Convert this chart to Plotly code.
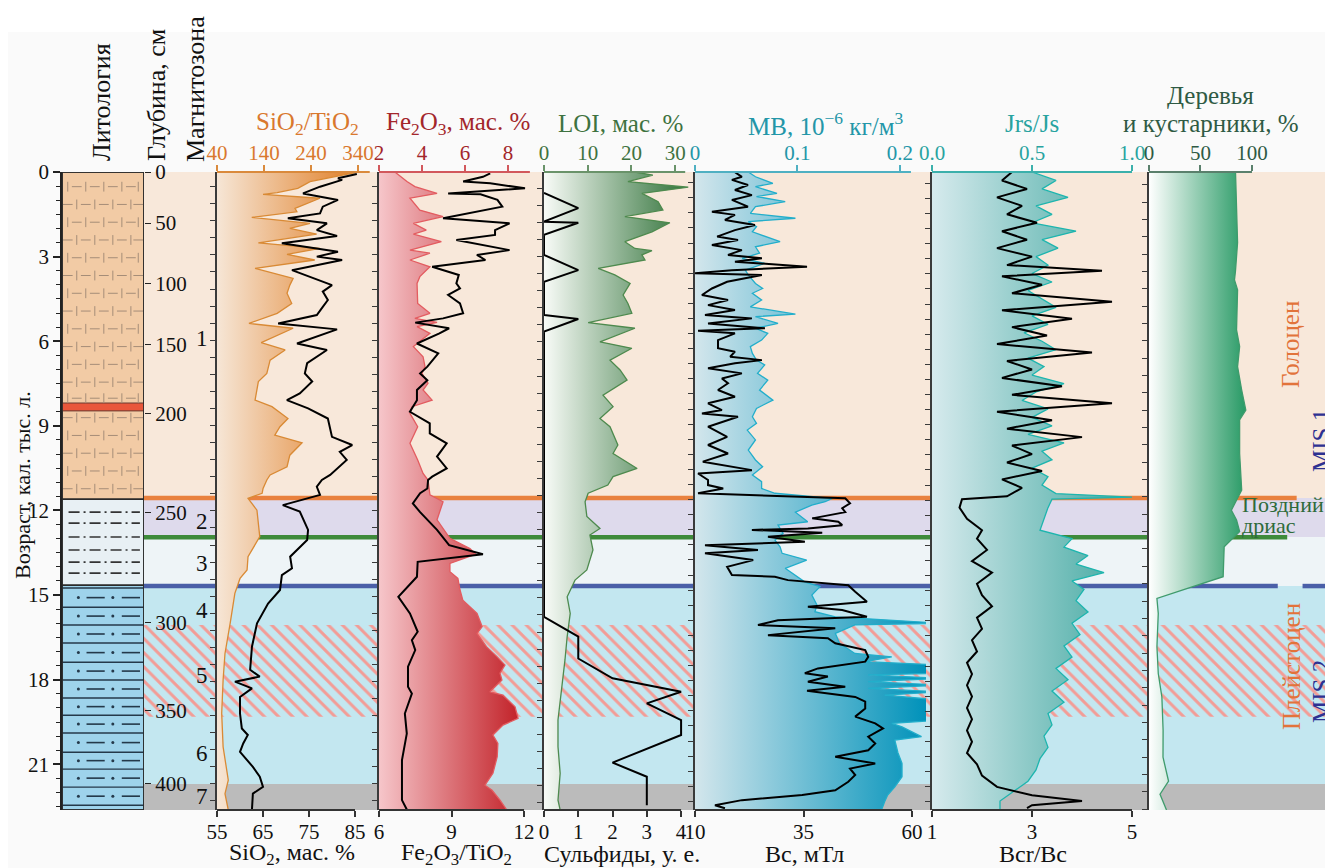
import plotly.graph_objects as go

W, H = 1325, 868
SERIF = "Liberation Serif"
AGE_MAX = 22.62


def fx(p):
    return p / W


def fy(p):
    return 1 - p / H


Y_DOM = [fy(810), fy(172)]

# ---------------- age / depth scales ----------------
DEPTH_CM = [0, 50, 100, 150, 200, 250, 300, 350, 400]
DEPTH_AGE = [0.0, 1.81, 3.97, 6.13, 8.55, 12.06, 15.96, 19.08, 21.67]

MAGNETOZONES = ["1", "2", "3", "4", "5", "6", "7"]
MAGNETOZONE_AGE = [5.96, 12.45, 13.94, 15.60, 17.91, 20.67, 22.20]

# ---------------- climatic intervals ----------------
BAND_TOP = [0.0, 11.56, 12.95, 14.68, 21.70]
BAND_BOT = [11.56, 12.95, 14.68, 21.70, AGE_MAX]
BAND_COLOR = ["#F8E8DA", "#DEDAEC", "#EEF4F7", "#C3E7F0", "#BBBBBB"]
HATCH_TOP, HATCH_BOT = 16.06, 19.31
BOUNDARY_AGE = [11.56, 12.95, 14.68]
BOUNDARY_COLOR = ["#E9813E", "#3E8A3A", "#4A5FA8"]

# ---------------- lithology ----------------
LITH_TOP = [0.0, 11.6, 14.65]
LITH_BOT = [11.6, 14.65, AGE_MAX]
LITH_COLOR = ["#F2CBA5", "#E8F0F4", "#9ED3EB"]
RED_LAYER = (8.19, 8.47)
SILT_ROWS = [0.52, 1.15, 1.78, 2.41, 3.04, 3.67, 4.30, 4.93, 5.56, 6.19,
             6.82, 7.45, 8.02, 8.71, 9.34, 9.97, 10.60, 11.23]
DASHDOT_ROWS = [12.06, 12.45, 12.94, 13.40, 13.83, 14.22]
CLAY_LINES = [14.75, 15.43, 16.06, 16.70, 17.38, 18.01, 18.65, 19.26,
              19.89, 20.57, 21.17, 21.81, 22.45]

# ---------------- SiO2/TiO2 (top) and SiO2, % (bottom) ----------------
SITI_AGE = [0.0, 0.34, 0.58, 0.73, 0.79, 0.93, 1.29, 1.41, 1.61, 1.82, 2.00, 2.20,
            2.51, 2.71, 2.92, 3.12, 3.42, 3.77, 4.01, 4.30, 4.66, 5.01, 5.37, 5.54,
            6.05, 6.31, 6.67, 7.14, 7.43, 7.73, 8.09, 8.32, 8.74, 9.03, 9.33, 9.60,
            10.04, 10.45, 10.74, 10.92, 11.22, 11.39, 11.57, 11.99, 12.93, 13.64,
            14.11, 14.41, 14.94, 16.00, 17.07, 18.01, 19.20, 20.38, 21.56, 22.04, 22.62]
SITI_VAL = [340, 238, 212, 168, 138, 259, 206, 210, 114, 238, 195, 252,
            128, 259, 189, 248, 121, 202, 195, 189, 199, 168, 108, 202,
            134, 185, 153, 146, 128, 125, 121, 157, 191, 174, 163, 221,
            195, 189, 153, 146, 138, 136, 106, 125, 131, 106,
            104, 89, 78, 68, 57, 53, 50, 53, 64, 57, 64]

SIO2_AGE = [0.07, 0.22, 0.28, 0.52, 0.76, 0.99, 1.23, 1.47, 1.64, 1.82, 2.06, 2.27,
            2.53, 2.83, 3.00, 3.12, 3.48, 4.01, 4.24, 4.54, 4.78, 5.07, 5.37, 5.58,
            6.08, 6.31, 6.78, 7.14, 7.43, 7.85, 8.09, 8.38, 8.74, 9.39, 9.68, 9.92,
            10.21, 10.74, 10.92, 11.16, 11.45, 11.81, 12.04, 12.69, 13.05, 13.64,
            14.05, 14.29, 14.82, 15.30, 16.00, 16.83, 17.65, 17.89, 18.07, 18.31,
            18.61, 19.20, 19.73, 19.96, 20.26, 20.56, 21.09, 21.44, 21.80, 22.04, 22.60]
SIO2_VAL = [85.4, 81.3, 82.2, 77.4, 73.7, 81.3, 78.0, 77.4, 70.4, 78.9, 76.7, 81.1,
            69.1, 81.3, 76.7, 82.2, 71.3, 80.0, 78.0, 79.1, 78.0, 76.7, 68.3, 81.1,
            72.4, 78.9, 74.6, 74.1, 75.7, 73.0, 70.2, 74.8, 79.1, 80.0, 84.4, 81.7,
            83.2, 79.6, 77.8, 76.7, 77.4, 69.3, 73.0, 74.8, 74.6, 70.9,
            71.3, 69.1, 68.7, 66.1, 63.7, 62.6, 62.2, 64.3, 58.9, 62.6,
            60.0, 60.0, 60.4, 61.7, 60.7, 60.0, 62.8, 64.3, 65.0, 62.8, 62.6]

# ---------------- Fe2O3, % (top) and Fe2O3/TiO2 (bottom) ----------------
FE_AGE = [0.0, 0.34, 0.52, 0.76, 0.93, 1.35, 1.58, 1.82, 2.06, 2.20, 2.47, 2.77,
          2.88, 3.12, 3.36, 3.71, 3.95, 4.66, 5.01, 5.19, 5.33, 5.48, 5.72, 6.19,
          6.55, 6.90, 7.14, 7.49, 7.73, 8.09, 8.32, 8.56, 9.03, 9.62, 10.21, 10.69,
          10.92, 11.45, 11.69, 11.99, 12.33, 12.99, 13.35, 13.55, 13.88, 14.17,
          14.41, 14.82, 15.18, 15.65, 16.12, 16.36, 16.83, 17.19, 17.48, 17.77,
          18.01, 18.43, 18.55, 18.96, 19.37, 19.61, 19.96, 20.26, 20.73, 21.32,
          21.74, 21.92, 22.27, 22.62]
FE_VAL = [2.74, 3.30, 3.67, 4.70, 3.44, 3.90, 4.98, 3.60, 4.20, 3.60, 4.90, 3.44,
          4.37, 3.44, 4.37, 3.90, 3.77, 3.80, 4.37, 3.67, 4.70, 3.77, 4.37, 3.60,
          4.05, 4.14, 4.00, 4.28, 4.05, 4.47, 3.53, 3.44, 3.80, 3.44, 3.80, 4.05,
          4.28, 4.37, 4.98, 4.84, 4.70, 5.30, 6.23, 6.50, 5.30, 5.30,
          5.67, 5.77, 5.90, 6.56, 6.80, 6.56, 7.00, 7.50, 7.86, 7.63,
          7.72, 7.16, 7.77, 8.33, 8.47, 7.77, 7.30, 7.53, 7.50, 7.30,
          6.93, 7.26, 7.63, 7.95]

FETI_AGE = [0.05, 0.17, 0.34, 0.40, 0.58, 0.76, 0.79, 0.99, 1.23, 1.47, 1.64, 1.82,
            2.06, 2.23, 2.41, 2.77, 2.94, 3.12, 3.36, 3.65, 3.95, 4.13, 4.36, 4.66,
            5.01, 5.19, 5.34, 5.54, 5.72, 6.08, 6.43, 6.90, 7.14, 7.38, 7.73, 8.09,
            8.50, 8.91, 9.27, 9.62, 10.09, 10.51, 10.80, 10.92, 11.22, 11.39, 11.75,
            12.06, 12.69, 13.23, 13.55, 13.82, 14.35, 15.06, 15.65, 16.30, 16.60,
            16.95, 17.54, 18.25, 18.49, 19.20, 19.91, 20.85, 21.56, 22.27, 22.60]
FETI_VAL = [10.6, 10.3, 9.48, 10.6, 12.04, 8.86, 10.2, 10.9, 11.1, 9.64, 8.65, 11.4,
            10.8, 10.8, 9.2, 11.4, 10.05, 10.4, 8.2, 9.3, 9.2, 9.35, 8.86, 9.35,
            9.48, 8.65, 7.5, 8.9, 8.5, 7.57, 8.45, 8.0, 7.7, 8.0, 7.57, 7.57,
            7.28, 8.1, 8.1, 8.8, 8.4, 8.8, 8.2, 8.03, 8.0, 7.7, 7.4,
            7.7, 8.4, 8.9, 10.3, 7.6, 7.57, 6.8, 7.28, 7.6, 7.36,
            7.5, 7.2, 7.2, 7.36, 7.07, 7.15, 6.95, 6.95, 6.95, 7.15]

# ---------------- LOI, % (top) and sulphides (bottom) ----------------
LOI_AGE = [0.0, 0.11, 0.34, 0.54, 0.76, 1.05, 1.35, 1.58, 1.80, 2.12, 2.47, 2.71,
           2.79, 2.94, 3.12, 3.42, 3.65, 3.95, 4.36, 4.66, 5.01, 5.34, 5.54, 6.02,
           6.25, 6.67, 7.02, 7.38, 7.91, 8.32, 8.74, 9.03, 9.68, 9.98, 10.51, 10.80,
           11.10, 11.39, 11.69, 12.21, 12.64, 12.87, 13.40, 14.11, 14.47, 15.06,
           15.65, 16.47, 17.30, 18.25, 19.43, 20.38, 21.32, 22.27, 22.62]
LOI_VAL = [20.8, 24.9, 19.2, 33.0, 22.4, 26.1, 27.2, 18.5, 28.8, 24.7, 18.5, 20.8,
           24.7, 22.4, 23.1, 12.4, 16.2, 19.7, 18.1, 19.2, 20.1, 10.1, 20.8, 12.8,
           20.1, 15.1, 17.4, 19.0, 13.5, 15.8, 12.8, 15.1, 16.9, 15.8, 21.3, 15.8,
           14.6, 10.1, 9.4, 9.8, 12.8, 10.5, 11.2, 9.8, 7.1, 5.3,
           6.0, 5.3, 4.8, 4.1, 3.2, 3.2, 3.7, 3.2, 3.7]

SULF_AGE = [0.74, 1.28, 1.76, 1.80, 2.23, 2.94, 3.48, 3.89, 5.07, 5.21, 5.66,
            15.77, 16.47, 17.25, 17.95, 18.43, 18.84, 19.43, 19.96, 20.94, 21.44, 22.45]
SULF_VAL = [0, 1, 0, 1, 0, 0, 1, 0, 0, 1, 0,
            0, 1, 1, 2, 4, 3, 4, 4, 2, 3, 3]

# ---------------- MB (top) and Bc (bottom) ----------------
MB_AGE = [0.0, 0.17, 0.40, 0.52, 0.76, 0.87, 1.05, 1.23, 1.47, 1.64, 1.76, 1.94,
          2.12, 2.47, 2.65, 2.88, 3.06, 3.24, 3.48, 3.65, 3.95, 4.13, 4.30, 4.54,
          4.78, 5.04, 5.13, 5.37, 5.54, 5.72, 5.96, 6.19, 6.43, 6.67, 6.84, 7.14,
          7.38, 7.73, 8.09, 8.38, 8.68, 8.91, 9.15, 9.50, 9.86, 10.21, 10.45, 10.74,
          10.98, 11.22, 11.39, 11.57, 11.69, 11.81, 12.06, 12.40, 12.52, 12.81,
          13.05, 13.29, 13.52, 13.76, 14.05, 14.35, 14.53, 14.70, 15.00, 15.35,
          15.59, 15.77, 16.00, 16.06, 16.36, 16.71, 17.07, 17.19, 17.36, 17.48,
          17.77, 17.83, 17.95, 18.07, 18.19, 18.31, 18.43, 18.55, 18.72, 19.43,
          19.55, 19.67, 20.02, 20.14, 20.59, 20.97, 21.44, 21.80, 22.09, 22.33, 22.62]
MB_VAL = [0.052, 0.059, 0.076, 0.059, 0.080, 0.060, 0.088, 0.059, 0.054, 0.098, 0.052, 0.060,
          0.056, 0.083, 0.059, 0.063, 0.046, 0.068, 0.049, 0.052, 0.059, 0.066, 0.056, 0.065,
          0.054, 0.098, 0.059, 0.081, 0.059, 0.071, 0.065, 0.054, 0.056, 0.060, 0.068, 0.061,
          0.071, 0.063, 0.076, 0.060, 0.056, 0.060, 0.051, 0.059, 0.052, 0.059, 0.066, 0.056,
          0.065, 0.065, 0.078, 0.134, 0.127, 0.114, 0.098, 0.110, 0.081, 0.086,
          0.078, 0.083, 0.085, 0.109, 0.088, 0.100, 0.107, 0.122, 0.114, 0.119,
          0.117, 0.137, 0.240, 0.156, 0.137, 0.141, 0.156, 0.192, 0.166, 0.240,
          0.240, 0.169, 0.240, 0.169, 0.240, 0.169, 0.240, 0.185, 0.240, 0.240,
          0.192, 0.202, 0.221, 0.195, 0.198, 0.202, 0.202, 0.195, 0.188, 0.185, 0.182]

BC_AGE = [0.01, 0.17, 0.28, 0.46, 0.64, 0.82, 0.99, 1.23, 1.41, 1.52, 1.70, 1.88,
          2.06, 2.29, 2.41, 2.59, 2.77, 2.94, 3.06, 3.18, 3.36, 3.48, 3.59, 3.65,
          3.89, 4.13, 4.36, 4.54, 4.72, 4.89, 5.07, 5.19, 5.37, 5.54, 5.63, 5.72,
          5.96, 6.25, 6.37, 6.55, 6.67, 6.78, 6.96, 7.14, 7.32, 7.49, 7.73, 7.97,
          8.20, 8.44, 8.56, 8.68, 9.03, 9.39, 9.68, 9.98, 10.27, 10.57, 10.69,
          10.92, 11.10, 11.22, 11.39, 11.57, 11.75, 11.92, 12.06, 12.28, 12.40,
          12.52, 12.64, 12.69, 12.79, 12.93, 13.11, 13.23, 13.40, 13.52, 13.76,
          14.00, 14.29, 14.35, 14.47, 14.65, 14.88, 15.24, 15.41, 15.53, 15.77,
          15.89, 16.06, 16.18, 16.42, 16.53, 16.71, 16.95, 17.19, 17.36, 17.60,
          17.77, 17.89, 18.07, 18.25, 18.39, 18.61, 18.78, 19.02, 19.31, 19.55,
          19.73, 20.02, 20.26, 20.50, 20.73, 20.97, 21.15, 21.38, 21.62, 21.92,
          22.09, 22.27, 22.45, 22.56]
BC_VAL = [19.2, 20.8, 18.5, 22.2, 19.2, 23.1, 18.5, 22.2, 13.9, 19.2, 16.9, 23.8,
          19.2, 15.1, 19.9, 13.9, 20.8, 17.6, 25.4, 19.2, 35.8, 18.5, 10.0, 25.4,
          17.4, 13.9, 11.6, 17.6, 13.0, 19.2, 12.3, 23.1, 13.0, 26.1, 10.7, 19.2,
          15.3, 15.3, 19.2, 18.1, 25.4, 19.2, 13.0, 20.8, 16.2, 17.6, 15.3, 19.2,
          13.0, 16.2, 11.6, 19.9, 13.0, 17.4, 13.0, 17.6, 11.8, 23.1, 10.7,
          13.0, 13.0, 16.5, 10.7, 44.6, 45.7, 43.9, 44.6, 37.0, 43.0,
          43.9, 36.0, 23.1, 39.3, 26.8, 35.3, 12.3, 24.5, 12.3, 23.4,
          17.4, 18.5, 28.4, 31.4, 45.3, 46.9, 49.6, 36.0, 43.9, 49.6,
          29.1, 24.5, 42.3, 26.8, 40.6, 42.3, 49.2, 49.9, 49.2, 38.3,
          35.3, 40.6, 36.0, 44.6, 35.8, 46.9, 49.2, 49.2, 46.9, 51.5,
          53.3, 49.9, 51.5, 49.9, 42.3, 51.5, 45.7, 46.9, 45.3, 42.3,
          34.7, 20.8, 14.6, 16.9]

# ---------------- Jrs/Js (top) and Bcr/Bc (bottom) ----------------
JRS_AGE = [0.0, 0.3, 0.6, 0.9, 1.2, 1.5, 1.8, 2.1, 2.4, 2.7, 3.0, 3.3, 3.6, 3.9,
           4.2, 4.5, 4.8, 5.1, 5.4, 5.7, 6.0, 6.3, 6.6, 6.9, 7.2, 7.5, 7.8, 8.1,
           8.4, 8.7, 9.0, 9.3, 9.6, 9.9, 10.2, 10.5, 10.8, 11.1, 11.4, 11.53,
           11.6, 11.9, 12.3, 12.7, 13.0, 13.3, 13.6, 13.9, 14.2, 14.5, 14.8,
           15.2, 15.6, 16.0, 16.4, 16.8, 17.2, 17.6, 18.0, 18.4, 18.8, 19.2,
           19.6, 20.0, 20.4, 20.8, 21.2, 21.6, 22.0, 22.3, 22.62]
JRS_VAL = [0.50, 0.62, 0.55, 0.68, 0.52, 0.60, 0.50, 0.72, 0.55, 0.63, 0.52, 0.58, 0.50, 0.60,
           0.48, 0.55, 0.62, 0.50, 0.58, 0.46, 0.55, 0.62, 0.48, 0.56, 0.50, 0.66, 0.52, 0.45,
           0.58, 0.50, 0.60, 0.48, 0.66, 0.55, 0.60, 0.50, 0.58, 0.55, 0.62, 1.00,
           0.60, 0.58, 0.56, 0.54, 0.70, 0.66, 0.78, 0.72, 0.86, 0.70, 0.76,
           0.72, 0.78, 0.70, 0.74, 0.66, 0.70, 0.62, 0.68, 0.60, 0.66, 0.58,
           0.60, 0.56, 0.58, 0.54, 0.52, 0.48, 0.40, 0.34, 0.34]

BCR_AGE = [0.0, 0.3, 0.6, 0.9, 1.2, 1.5, 1.8, 2.1, 2.4, 2.7, 3.0, 3.3, 3.5, 3.7,
           4.0, 4.3, 4.6, 4.9, 5.2, 5.5, 5.8, 6.1, 6.4, 6.7, 7.0, 7.3, 7.6, 7.9,
           8.2, 8.5, 8.8, 9.1, 9.4, 9.7, 10.0, 10.3, 10.6, 10.9, 11.2, 11.5,
           11.6, 11.9, 12.3, 12.7, 13.0, 13.4, 13.8, 14.2, 14.6, 15.0, 15.4,
           15.8, 16.2, 16.6, 17.0, 17.4, 17.8, 18.2, 18.6, 19.0, 19.4, 19.8,
           20.2, 20.6, 21.0, 21.4, 21.8, 22.1, 22.3, 22.45, 22.55]
BCR_VAL = [2.6, 2.4, 2.9, 2.3, 2.8, 2.5, 3.1, 2.4, 2.9, 2.3, 3.0, 2.5, 4.4, 2.4,
           3.2, 2.6, 4.6, 2.4, 3.8, 2.6, 3.3, 2.3, 4.2, 2.5, 3.0, 2.4, 3.6, 2.6,
           4.6, 2.3, 3.4, 2.5, 4.0, 2.6, 3.0, 2.5, 3.2, 2.4, 2.8, 2.5,
           1.6, 1.55, 1.7, 2.0, 1.9, 2.1, 1.8, 2.2, 1.9, 2.0, 2.2,
           1.9, 2.0, 1.8, 1.9, 1.7, 1.8, 1.7, 1.8, 1.7, 1.8, 1.7,
           1.8, 1.7, 1.9, 2.0, 2.3, 3.0, 4.0, 3.0, 2.9]

# ---------------- trees and shrubs, % ----------------
TREE_AGE = [0.0, 1.5, 2.5, 3.5, 3.83, 4.18, 5.60, 6.19, 6.90, 7.73, 8.44, 8.79,
            9.98, 11.28, 11.63, 11.99, 12.34, 12.75, 13.29, 14.35, 15.12, 15.65,
            16.83, 17.78, 18.61, 19.79, 20.75, 21.60, 22.06, 22.62]
TREE_VAL = [84, 85, 86, 84, 83, 86, 85, 88, 86, 90, 94, 88,
            88, 90, 85, 80, 85, 88, 73, 72, 7.7, 9,
            7.7, 9, 12.5, 13.7, 13.6, 19, 10.7, 17]

# ---------------- panel set-up ----------------
PANELS = [
    dict(l=217, r=375, top=[40, 376.2], bot=[55, 89.35],
         top_ticks=[40, 140, 240, 340], top_text=["40", "140", "240", "340"],
         bot_ticks=[55, 65, 75, 85], top_end=365, bot_end=85,
         axis="#DA8A3C", label="#D9782D", tick0=0.52, dtick=0.605,
         fill=("#F6E6D6", "#E07C22"), grad=(40, 345), edge="#D98A35",
         top_x=SITI_VAL, top_y=SITI_AGE, bot_x=SIO2_VAL, bot_y=SIO2_AGE),
    dict(l=379, r=540, top=[2, 9.49], bot=[6, 12.66],
         top_ticks=[2, 4, 6, 8], top_text=["2", "4", "6", "8"],
         bot_ticks=[6, 9, 12], top_end=9.02, bot_end=12,
         axis="#D2585C", label="#A3262B", tick0=0.52, dtick=0.605,
         fill=("#F6C6CA", "#C01B22"), grad=(2, 8.8), edge="#E35C60",
         top_x=FE_VAL, top_y=FE_AGE, bot_x=FETI_VAL, bot_y=FETI_AGE),
    dict(l=544, r=690, top=[0, 33.4], bot=[0, 4.26],
         top_ticks=[0, 10, 20, 30], top_text=["0", "10", "20", "30"],
         bot_ticks=[0, 1, 2, 3, 4], top_end=32.3, bot_end=4,
         axis="#6A936A", label="#3E7240", tick0=0.58, dtick=0.605,
         fill=("#F8FBF7", "#3B7943"), grad=(0, 31), edge="#4E8A4E",
         top_x=LOI_VAL, top_y=LOI_AGE, bot_x=SULF_VAL, bot_y=SULF_AGE),
    dict(l=695, r=926, top=[0, 0.2254], bot=[10, 63.2],
         top_ticks=[0, 0.1, 0.2], top_text=["0", "0.1", "0.2"],
         bot_ticks=[10, 35, 60], top_end=0.2107, bot_end=60,
         axis="#4FB0C2", label="#2396A8", tick0=0.38, dtick=0.535,
         fill=("#D3E6EC", "#0092BA"), grad=(0, 0.225), edge="#22AECB",
         top_x=MB_VAL, top_y=MB_AGE, bot_x=BC_VAL, bot_y=BC_AGE),
    dict(l=932, r=1145, top=[0, 1.065], bot=[1, 5.26],
         top_ticks=[0, 0.5, 1.0], top_text=["0.0", "0.5", "1.0"],
         bot_ticks=[1, 3, 5], top_end=1.0, bot_end=5,
         axis="#3BB0AB", label="#28A3A0", tick0=0.40, dtick=0.535,
         fill=("#D6EAED", "#3FA79F"), grad=(0, 1.0), edge="#1DB5AE",
         top_x=JRS_VAL, top_y=JRS_AGE, bot_x=BCR_VAL, bot_y=BCR_AGE),
    dict(l=1149, r=1325, top=[0, 170.9], bot=None,
         top_ticks=[0, 50, 100], top_text=["0", "50", "100"],
         bot_ticks=None, top_end=100, bot_end=None,
         axis="#5A806C", label="#2F5A44", tick0=0.45, dtick=0.615,
         fill=("#FFFFFF", "#2C9C68"), grad=(0, 92), edge="#3F9B6C",
         top_x=TREE_VAL, top_y=TREE_AGE, bot_x=None, bot_y=None),
]

fig = go.Figure()


def box(x0, x1, y0, y1):
    return [x0, x1, x1, x0, x0], [y0, y0, y1, y1, y0]


# ---- interval bands behind the profiles (x / y) ----
for t, b, c in zip(BAND_TOP, BAND_BOT, BAND_COLOR):
    xs, ys = box(0, 1, t, b)
    fig.add_trace(go.Scatter(x=xs, y=ys, xaxis="x", yaxis="y", mode="none",
                             fill="toself", fillcolor=c))
xs, ys = box(0, 1, HATCH_TOP, HATCH_BOT)
fig.add_trace(go.Scatter(x=xs, y=ys, xaxis="x", yaxis="y", mode="none",
                         fill="toself",
                         fillpattern=dict(shape="\\", fgcolor="#F39C96",
                                          bgcolor="#C3E7F0", size=10, solidity=0.3)))
BOUNDARY_END = [0.976, 0.968, 0.960]
for a, c, e in zip(BOUNDARY_AGE, BOUNDARY_COLOR, BOUNDARY_END):
    fig.add_trace(go.Scatter(x=[0, e], y=[a, a], xaxis="x", yaxis="y", mode="lines",
                             line=dict(color=c, width=4.5)))
fig.add_trace(go.Scatter(x=[0.981, 1.0], y=[BOUNDARY_AGE[2]] * 2, xaxis="x",
                         yaxis="y", mode="lines",
                         line=dict(color=BOUNDARY_COLOR[2], width=4.5)))
fig.add_trace(go.Scatter(x=[0.049] * len(MAGNETOZONES), y=MAGNETOZONE_AGE,
                         xaxis="x", yaxis="y", mode="text", text=MAGNETOZONES,
                         textfont=dict(family=SERIF, size=23, color="#111111")))

# ---- lithology column (x2 / y) ----
for t, b, c in zip(LITH_TOP, LITH_BOT, LITH_COLOR):
    xs, ys = box(0, 1, t, b)
    fig.add_trace(go.Scatter(x=xs, y=ys, xaxis="x2", yaxis="y", mode="lines",
                             fill="toself", fillcolor=c,
                             line=dict(color="#2A2A2A", width=1.5)))
xs, ys = box(0, 1, RED_LAYER[0], RED_LAYER[1])
fig.add_trace(go.Scatter(x=xs, y=ys, xaxis="x2", yaxis="y", mode="lines",
                         fill="toself", fillcolor="#E9573B",
                         line=dict(color="#6A3A30", width=1)))

# silt texture: short bars and dashes
bar_x, bar_y, dash_x, dash_y = [], [], [], []
for k, r in enumerate(SILT_ROWS):
    bars = [0.07, 0.29, 0.51, 0.73, 0.93] if k % 2 == 0 else [0.18, 0.40, 0.62, 0.84]
    dashes = [0.18, 0.40, 0.62, 0.84] if k % 2 == 0 else [0.07, 0.29, 0.51, 0.73, 0.93]
    bar_x += bars
    bar_y += [r] * len(bars)
    dash_x += dashes
    dash_y += [r] * len(dashes)
fig.add_trace(go.Scatter(x=bar_x, y=bar_y, xaxis="x2", yaxis="y", mode="markers",
                         marker=dict(symbol="line-ns", size=7,
                                     line=dict(width=1, color="#A58D78"))))
fig.add_trace(go.Scatter(x=dash_x, y=dash_y, xaxis="x2", yaxis="y", mode="markers",
                         marker=dict(symbol="line-ew", size=7,
                                     line=dict(width=1, color="#A58D78"))))

# dash-dot texture of the middle unit
for r in DASHDOT_ROWS:
    fig.add_trace(go.Scatter(x=[0.08, 0.95], y=[r, r], xaxis="x2", yaxis="y",
                             mode="lines",
                             line=dict(color="#333333", width=1.6,
                                       dash="11px,4px,2px,4px")))

# laminated clay: solid lines with dot-dash rows
for r in CLAY_LINES:
    fig.add_trace(go.Scatter(x=[0, 1], y=[r, r], xaxis="x2", yaxis="y", mode="lines",
                             line=dict(color="#24394A", width=1.4)))
mid_rows = [(a + b) / 2 for a, b in zip(CLAY_LINES[:-1], CLAY_LINES[1:])]
fig.add_trace(go.Scatter(x=[0.2, 0.62] * len(mid_rows),
                         y=[m for m in mid_rows for _ in range(2)],
                         xaxis="x2", yaxis="y", mode="markers",
                         marker=dict(symbol="circle", size=3, color="#24394A")))
fig.add_trace(go.Scatter(x=[0.41, 0.84] * len(mid_rows),
                         y=[m for m in mid_rows for _ in range(2)],
                         xaxis="x2", yaxis="y", mode="markers",
                         marker=dict(symbol="line-ew", size=13,
                                     line=dict(width=1.6, color="#24394A"))))
xs, ys = box(0, 1, 0, AGE_MAX)
fig.add_trace(go.Scatter(x=xs, y=ys, xaxis="x2", yaxis="y", mode="lines",
                         line=dict(color="#2A2A2A", width=1.6)))

# depth axis carrier (invisible points at the labelled depths)
fig.add_trace(go.Scatter(x=[0.5] * len(DEPTH_AGE), y=DEPTH_AGE, xaxis="x2",
                         yaxis="y2", mode="markers",
                         marker=dict(size=1, opacity=0)))

# ---- profile panels ----
layout_axes = {}
shapes = []
for i, p in enumerate(PANELS):
    xb, xo, yi = 3 + 2 * i, 4 + 2 * i, 3 + i
    fig.add_trace(go.Scatter(
        x=p["top_x"], y=p["top_y"], xaxis=f"x{xb}", yaxis=f"y{yi}", mode="lines",
        line=dict(color=p["edge"], width=1.3), fill="tozerox",
        fillgradient=dict(type="horizontal",
                          colorscale=[[0, p["fill"][0]], [1, p["fill"][1]]],
                          start=p["grad"][0], stop=p["grad"][1])))
    if p["bot_x"] is not None:
        fig.add_trace(go.Scatter(x=p["bot_x"], y=p["bot_y"], xaxis=f"x{xo}",
                                 yaxis=f"y{yi}", mode="lines",
                                 line=dict(color="#000000", width=2)))

    layout_axes[f"xaxis{xb}"] = dict(
        domain=[fx(p["l"]), fx(p["r"])], range=p["top"], anchor=f"y{yi}", side="top",
        tickmode="array", tickvals=p["top_ticks"], ticktext=p["top_text"],
        ticks="outside", ticklen=6, tickwidth=1.5, tickcolor=p["axis"],
        ticklabelstandoff=-3,
        tickfont=dict(family=SERIF, size=21, color=p["label"]),
        showline=False, showgrid=False, zeroline=False, automargin=False)
    shapes.append(dict(type="line", xref=f"x{xb}", yref="paper",
                       x0=p["top"][0], x1=p["top_end"], y0=fy(172), y1=fy(172),
                       line=dict(color=p["axis"], width=2.2), layer="above"))
    if p["bot"] is not None:
        layout_axes[f"xaxis{xo}"] = dict(
            overlaying=f"x{xb}", range=p["bot"], anchor=f"y{yi}", side="bottom",
            tickmode="array", tickvals=p["bot_ticks"], ticks="outside", ticklen=6,
            tickwidth=1.5, tickcolor="#333333", ticklabelstandoff=-3,
            tickfont=dict(family=SERIF, size=21, color="#111111"),
            showline=False, showgrid=False, zeroline=False, automargin=False)
        shapes.append(dict(type="line", xref=f"x{xo}", yref="paper",
                           x0=p["bot"][0], x1=p["bot_end"], y0=fy(810), y1=fy(810),
                           line=dict(color="#333333", width=2), layer="above"))
    layout_axes[f"yaxis{yi}"] = dict(
        domain=Y_DOM, range=[AGE_MAX, 0], anchor=f"x{xb}", side="left",
        showline=True, linecolor="#3A3A3A", linewidth=1.5,
        ticks="outside", ticklen=5, tickwidth=1.2, tickcolor="#3A3A3A",
        tick0=p["tick0"], dtick=p["dtick"], showticklabels=False,
        showgrid=False, zeroline=False, automargin=False)

layout_axes["xaxis"] = dict(domain=[fx(144), 1], range=[0, 1], anchor="y",
                            visible=False, automargin=False)
layout_axes["xaxis2"] = dict(domain=[fx(62), fx(144)], range=[0, 1], anchor="y",
                             visible=False, automargin=False)
layout_axes["yaxis"] = dict(
    domain=Y_DOM, range=[AGE_MAX, 0], anchor="x2", side="left",
    showline=True, linecolor="#222222", linewidth=1.5,
    ticks="outside", ticklen=7, tickwidth=1.5, tickcolor="#222222",
    tick0=0, dtick=3,
    minor=dict(ticks="outside", dtick=0.5, ticklen=4, tickwidth=1,
               tickcolor="#222222", showgrid=False),
    tickfont=dict(family=SERIF, size=21, color="#111111"),
    showgrid=False, zeroline=False, automargin=False)
layout_axes["yaxis2"] = dict(
    overlaying="y", anchor="x2", side="right",
    range=[AGE_MAX, 0], tickmode="array", tickvals=DEPTH_AGE,
    ticktext=[str(d) for d in DEPTH_CM], ticks="outside", ticklen=6, tickwidth=1.3,
    tickcolor="#222222", tickfont=dict(family=SERIF, size=21, color="#111111"),
    showline=False, showgrid=False, zeroline=False, automargin=False)

shapes.insert(0, dict(type="rect", xref="paper", yref="paper", x0=fx(8), x1=1,
                      y0=0, y1=fy(32), fillcolor="#FAFAFA", line=dict(width=0),
                      layer="below"))


def note(text, x, y, color="#111111", size=25, angle=0, xa="center", ya="middle"):
    return dict(text=text, x=fx(x), y=fy(y), xref="paper", yref="paper",
                showarrow=False, textangle=angle, xanchor=xa, yanchor=ya,
                font=dict(family=SERIF, size=size, color=color))


annotations = [
    note("Литология", 101, 163, size=26, angle=-90, ya="bottom"),
    note("Глубина, см", 156, 163, size=26, angle=-90, ya="bottom"),
    note("Магнитозона", 196, 164, size=26, angle=-90, ya="bottom"),
    note("Возраст, кал. тыс. л.", 22, 485, size=22, angle=-90),
    note("SiO<sub>2</sub>/TiO<sub>2</sub>", 307, 124, color="#D9782D"),
    note("Fe<sub>2</sub>O<sub>3</sub>, мас. %", 458, 124, color="#A3262B"),
    note("LOI, мас. %", 620, 124, color="#3E7240"),
    note("MB, 10<sup>−6</sup> кг/м<sup>3</sup>", 826, 124, color="#2396A8"),
    note("Jrs/Js", 1032, 124, color="#28A3A0"),
    note("Деревья", 1210, 96, color="#2F5A44"),
    note("и кустарники, %", 1210, 124, color="#2F5A44"),
    note("SiO<sub>2</sub>, мас. %", 292, 854, size=24),
    note("Fe<sub>2</sub>O<sub>3</sub>/TiO<sub>2</sub>", 456, 854, size=24),
    note("Сульфиды, у. е.", 622, 854, size=24),
    note("Bc, мТл", 804, 854, size=24),
    note("Bcr/Bc", 1033, 854, size=24),
    note("Голоцен", 1290, 345, color="#E2733A", size=25, angle=-90),
    note("MIS 1", 1321, 441, color="#2E3192", size=25, angle=-90),
    note("Поздний", 1240, 504, color="#2E6B3A", size=22, xa="left"),
    note("дриас", 1240, 525, color="#2E6B3A", size=22, xa="left"),
    note("Плейстоцен", 1291, 667, color="#E2733A", size=25, angle=-90),
    note("MIS 2", 1321, 692, color="#2E3192", size=25, angle=-90),
]

fig.update_traces(showlegend=False, hoverinfo="skip")
fig.update_layout(
    template="none",
    width=W, height=H, autosize=False,
    margin=dict(l=0, r=0, t=0, b=0, pad=0),
    paper_bgcolor="#FFFFFF", plot_bgcolor="rgba(0,0,0,0)",
    showlegend=False, hovermode=False,
    font=dict(family=SERIF, size=21, color="#111111"),
    shapes=shapes, annotations=annotations,
    **layout_axes,
)

fig.write_html("out.html")
